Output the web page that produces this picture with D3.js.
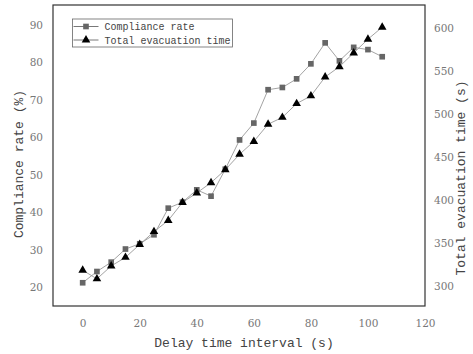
<!DOCTYPE html>
<html>
<head>
<meta charset="utf-8">
<script src="https://cdn.jsdelivr.net/npm/d3@7"></script>
<style>
  body { margin: 0; background: #fff; }
  svg { display: block; }
  .mono { font-family: "Liberation Mono", "DejaVu Sans Mono", monospace; }
  .serif { font-family: "DejaVu Serif", "Liberation Serif", serif; }
</style>
</head>
<body>
<svg class="js-chart"></svg>
<script>
/* global d3 */
var delays = [0, 5, 10, 15, 20, 25, 30, 35, 40, 45, 50, 55, 60, 65, 70, 75, 80, 85, 90, 95, 100, 105];
var complianceRate = [21.2, 24.2, 26.7, 30.2, 31.6, 34.0, 41.1, 42.7, 46.0, 44.3, 51.5,
    59.3, 63.8, 72.7, 73.3, 75.6, 79.6, 85.2, 80.4, 84.0, 83.4, 81.5];
var evacuationTime = [318, 308, 323, 333, 348, 363, 376, 397, 408, 420, 435,
    453, 468, 488, 496, 512, 521, 543, 555, 571, 587, 601];
var xTicks = [0, 20, 40, 60, 80, 100, 120];
var leftTicks = [20, 30, 40, 50, 60, 70, 80, 90];
var rightTicks = [300, 350, 400, 450, 500, 550, 600];
var seriesNames = ["Compliance rate", "Total evacuation time"];

var width = 473, height = 354;
var margin = { top: 5, right: 48, bottom: 48, left: 53 };
var w = width - margin.left - margin.right;
var h = height - margin.top - margin.bottom;

var svg = d3.select(".js-chart").attr("width", width).attr("height", height);
var g = svg.append("g").attr("transform", "translate(" + margin.left + "," + margin.top + ")");

var x = d3.scaleLinear().domain([-10.4, 120]).range([0, w]);
var yL = d3.scaleLinear().domain([15, 95.3]).range([h, 0]);
var yR = d3.scaleLinear().domain([276.4, 626.8]).range([h, 0]);

// axes without tick marks, just labels
function styleAxis(sel) {
    sel.attr("font-family", null).attr("font-size", null);
    sel.select(".domain").remove();
    sel.selectAll(".tick line").remove();
    sel.selectAll(".tick text")
        .attr("class", "serif")
        .attr("font-size", 10.5)
        .attr("fill", "#777");
}

g.append("g")
    .attr("transform", "translate(0," + h + ")")
    .call(d3.axisBottom(x).tickValues(xTicks).tickSize(0).tickPadding(14))
    .call(styleAxis);

g.append("g")
    .call(d3.axisLeft(yL).tickValues(leftTicks).tickSize(0).tickPadding(10))
    .call(styleAxis);

g.append("g")
    .attr("transform", "translate(" + w + ",0)")
    .call(d3.axisRight(yR).tickValues(rightTicks).tickSize(0).tickPadding(9))
    .call(styleAxis);

// frame
g.append("rect")
    .attr("width", w).attr("height", h)
    .attr("fill", "none").attr("stroke", "#333").attr("stroke-width", 1.2);

// axis titles
svg.append("text")
    .attr("class", "mono")
    .attr("x", margin.left + w / 2 + 5).attr("y", 347)
    .attr("text-anchor", "middle")
    .attr("font-size", 13).attr("fill", "#444")
    .text("Delay time interval (s)");

svg.append("text")
    .attr("class", "mono")
    .attr("transform", "translate(23,164) rotate(-90)")
    .attr("text-anchor", "middle")
    .attr("font-size", 13).attr("fill", "#444")
    .text("Compliance rate (%)");

svg.append("text")
    .attr("class", "mono")
    .attr("transform", "translate(465,178) rotate(-90)")
    .attr("text-anchor", "middle")
    .attr("font-size", 13).attr("fill", "#444")
    .text("Total evacuation time (s)");

// series
var lineL = d3.line().x(function (d, i) { return x(delays[i]); }).y(function (d) { return yL(d); });
var lineR = d3.line().x(function (d, i) { return x(delays[i]); }).y(function (d) { return yR(d); });

g.append("path").datum(complianceRate).attr("d", lineL)
    .attr("fill", "none").attr("stroke", "#999").attr("stroke-width", 0.9);
g.append("path").datum(evacuationTime).attr("d", lineR)
    .attr("fill", "none").attr("stroke", "#999").attr("stroke-width", 0.9);

var square = d3.symbol().type(d3.symbolSquare).size(32);
var triangle = d3.symbol().type(d3.symbolTriangle).size(32);

g.selectAll(".sq").data(complianceRate).enter().append("path")
    .attr("class", "sq")
    .attr("d", square)
    .attr("transform", function (d, i) { return "translate(" + x(delays[i]) + "," + yL(d) + ")"; })
    .attr("fill", "#666");

g.selectAll(".tri").data(evacuationTime).enter().append("path")
    .attr("class", "tri")
    .attr("d", triangle)
    .attr("transform", function (d, i) { return "translate(" + x(delays[i]) + "," + yR(d) + ")"; })
    .attr("fill", "#000");

// legend
var legend = svg.append("g").attr("transform", "translate(72.5,19)");
legend.append("rect")
    .attr("width", 160).attr("height", 28)
    .attr("fill", "#fff").attr("stroke", "#666").attr("stroke-width", 0.8);

var rows = legend.selectAll(".row").data(seriesNames).enter().append("g")
    .attr("transform", function (d, i) { return "translate(0," + (7.5 + i * 13.5) + ")"; });
rows.append("line")
    .attr("x1", 1).attr("x2", 26).attr("stroke", "#555").attr("stroke-width", 0.8);
rows.append("path")
    .attr("d", function (d, i) { return i === 0 ? square() : triangle(); })
    .attr("transform", "translate(13.5,0)")
    .attr("fill", function (d, i) { return i === 0 ? "#666" : "#000"; });
rows.append("text")
    .attr("class", "mono")
    .attr("x", 32).attr("dy", "0.35em")
    .attr("font-size", 10).attr("fill", "#444")
    .text(function (d) { return d; });
</script>
</body>
</html>
